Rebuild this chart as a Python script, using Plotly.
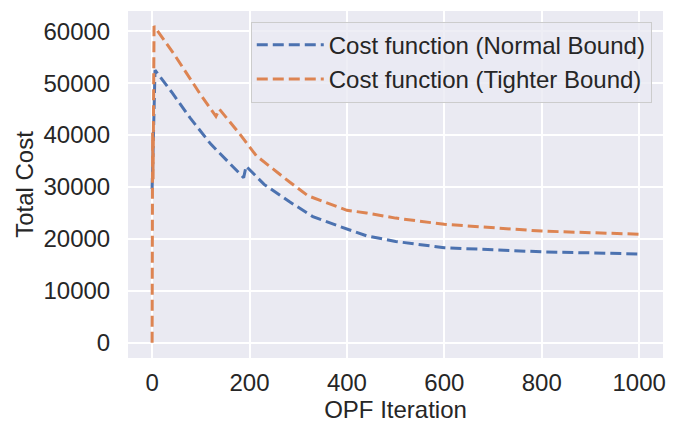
import plotly.graph_objects as go

# Cost function (Normal Bound)
normal_x = [0, 6, 40, 78, 120, 160, 186, 188, 193, 230, 283, 330, 385, 400, 440, 500, 600, 700, 800, 900, 1000]
normal_y = [29600, 52500, 48300, 43300, 38300, 34500, 32000, 31800, 34000, 30500, 27100, 24300, 22400, 21900, 20600, 19500, 18300, 17900, 17500, 17300, 17100]

# Cost function (Tighter Bound)
tight_x = [0, 1, 2, 4, 45, 98, 129, 131, 138, 180, 214, 250, 283, 320, 350, 400, 440, 500, 600, 700, 800, 900, 1000]
tight_y = [0, 40500, 31500, 61000, 55600, 48000, 43800, 43600, 45000, 40200, 36000, 33300, 30900, 28300, 27300, 25500, 25000, 24000, 22800, 22100, 21500, 21200, 20900]

x_ticks = [0, 200, 400, 600, 800, 1000]
x_tick_labels = ["0", "200", "400", "600", "800", "1000"]
y_ticks = [0, 10000, 20000, 30000, 40000, 50000, 60000]
y_tick_labels = ["0", "10000", "20000", "30000", "40000", "50000", "60000"]

FONT = "Liberation Sans, Arial, sans-serif"
FS = 24

fig = go.Figure()
fig.add_trace(go.Scatter(x=normal_x, y=normal_y, mode="lines",
                         name="Cost function (Normal Bound)",
                         line=dict(color="#4C72B0", width=3, dash="11px,5px")))
fig.add_trace(go.Scatter(x=tight_x, y=tight_y, mode="lines",
                         name="Cost function (Tighter Bound)",
                         line=dict(color="#DD8452", width=3, dash="11px,5px")))

# the page body adds an 8px offset, so the figure is sized to fit inside it
fig.update_layout(
    width=686, height=415,
    margin=dict(l=120, r=31, t=3, b=65),
    paper_bgcolor="white",
    plot_bgcolor="#EAEAF2",
    font=dict(family=FONT, size=FS, color="#262626"),
    showlegend=True,
    legend=dict(x=0.979, y=0.969, xanchor="right", yanchor="top",
                bgcolor="rgba(234,234,242,0.8)", bordercolor="#CCCCCC", borderwidth=1,
                itemwidth=67,
                font=dict(size=FS, color="#262626"), tracegroupgap=0),
)
fig.update_xaxes(range=[-49.5, 1049], tickvals=x_ticks, ticktext=x_tick_labels,
                 showgrid=True, gridcolor="white", automargin=False,
                 gridwidth=1.5, zeroline=False, showline=False,
                 ticks="outside", ticklen=3, tickcolor="rgba(0,0,0,0)",
                 title=dict(text="OPF Iteration", standoff=2, font=dict(size=FS)),
                 tickfont=dict(size=FS, color="#262626"))
fig.update_yaxes(range=[-2950, 63900], tickvals=y_ticks, ticktext=y_tick_labels,
                 showgrid=True, gridcolor="white", automargin=False,
                 gridwidth=1.5, zeroline=False, showline=False,
                 ticks="outside", ticklen=12, tickcolor="rgba(0,0,0,0)",
                 title=dict(text="Total Cost", standoff=3, font=dict(size=FS)),
                 tickfont=dict(size=FS, color="#262626"))

fig.write_html("out.html")
